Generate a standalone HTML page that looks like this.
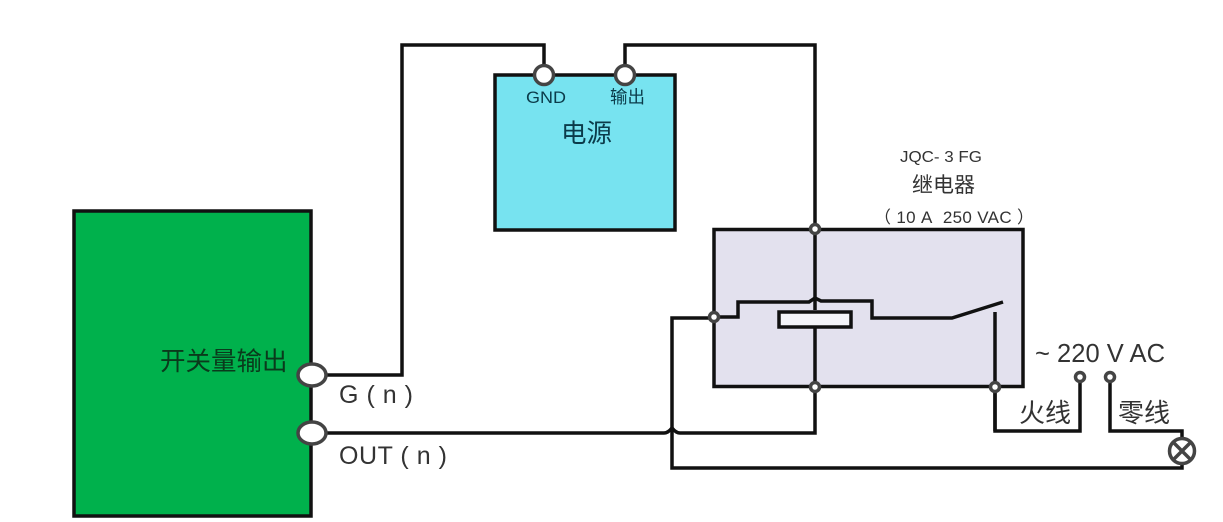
<!DOCTYPE html>
<html><head><meta charset="utf-8"><style>
html,body{margin:0;padding:0;background:#fff}
svg{display:block}
text{font-family:"Liberation Sans","Noto Sans CJK SC",sans-serif}
</style></head><body>
<svg width="1223" height="522" viewBox="0 0 1223 522" xmlns="http://www.w3.org/2000/svg">
<rect width="1223" height="522" fill="#fff"/>
<rect x="74" y="211" width="237" height="305" fill="#00b14c" stroke="#111" stroke-width="3.500"/>
<rect x="495" y="75" width="180" height="155" fill="#77e3f0" stroke="#111" stroke-width="3.500"/>
<rect x="714" y="229.500" width="309" height="157" fill="#e3e1ee" stroke="#111" stroke-width="3.500"/>
<g fill="none" stroke="#111" stroke-width="3.500">
<path d="M326 375H402V45H544V75"/>
<path d="M625 75V45H815V229"/>
<path d="M815 229V310M815 328V387V433H680Q676 433 672 428Q668 433 664 433H326"/>
<path d="M672 428V468H1182V452"/>
<path d="M672 428V318H714"/>
<path d="M714 317H738V302H809L815 298L821 301H872V318H952L1003 302"/>
<path d="M995 312V431H1080V377"/>
<path d="M995 387V431"/>
<path d="M1110 377V431H1182V437"/>
</g>
<rect x="779" y="312" width="72" height="15" fill="#f4f4f8" stroke="#111" stroke-width="3.500"/>
<g fill="#fff" stroke="#444" stroke-width="3.500">
<circle cx="544" cy="75" r="9.500"/>
<circle cx="625" cy="75" r="9.500"/>
<ellipse cx="312" cy="375" rx="14" ry="11"/>
<ellipse cx="312" cy="433" rx="14" ry="11"/>
<circle cx="815" cy="229" r="4.500"/>
<circle cx="815" cy="387" r="4.500"/>
<circle cx="714" cy="317" r="4.500"/>
<circle cx="995" cy="387" r="4.500"/>
<circle cx="1080" cy="377" r="4.500"/>
<circle cx="1110" cy="377" r="4.500"/>
</g>
<g fill="#fff" stroke="#444" stroke-width="3.500">
<circle cx="1182" cy="451" r="12.500"/>
<path d="M1173.500 442.500L1190.500 459.500M1190.500 442.500L1173.500 459.500" fill="none"/>
</g>
<g fill="#222">
<text x="160" y="370" font-size="25.500" fill="#0a3a1c">开关量输出</text>
<text x="526" y="103" font-size="17" textLength="40" lengthAdjust="spacingAndGlyphs" fill="#0b3b4a">GND</text>
<text x="610" y="103" font-size="17.500" fill="#0b3b4a">输出</text>
<text x="561" y="142" font-size="25.500" fill="#0b3b4a">电源</text>
<text x="900" y="162" font-size="16" textLength="82" lengthAdjust="spacingAndGlyphs" fill="#333">JQC- 3 FG</text>
<text x="912" y="192" font-size="21" fill="#333">继电器</text>
<text x="874" y="223" font-size="17" textLength="160" fill="#333">（ 10 A&#160; 250 VAC ）</text>
<text x="1035" y="362" font-size="25.500" textLength="130" fill="#333">~ 220 V AC</text>
<text x="1019" y="422" font-size="26" fill="#333">火线</text>
<text x="1118" y="422" font-size="26" fill="#333">零线</text>
<text x="339" y="403" font-size="25" textLength="74" fill="#333">G ( n )</text>
<text x="339" y="464" font-size="25" textLength="108" fill="#333">OUT ( n )</text>
</g>
</svg>
</body></html>
